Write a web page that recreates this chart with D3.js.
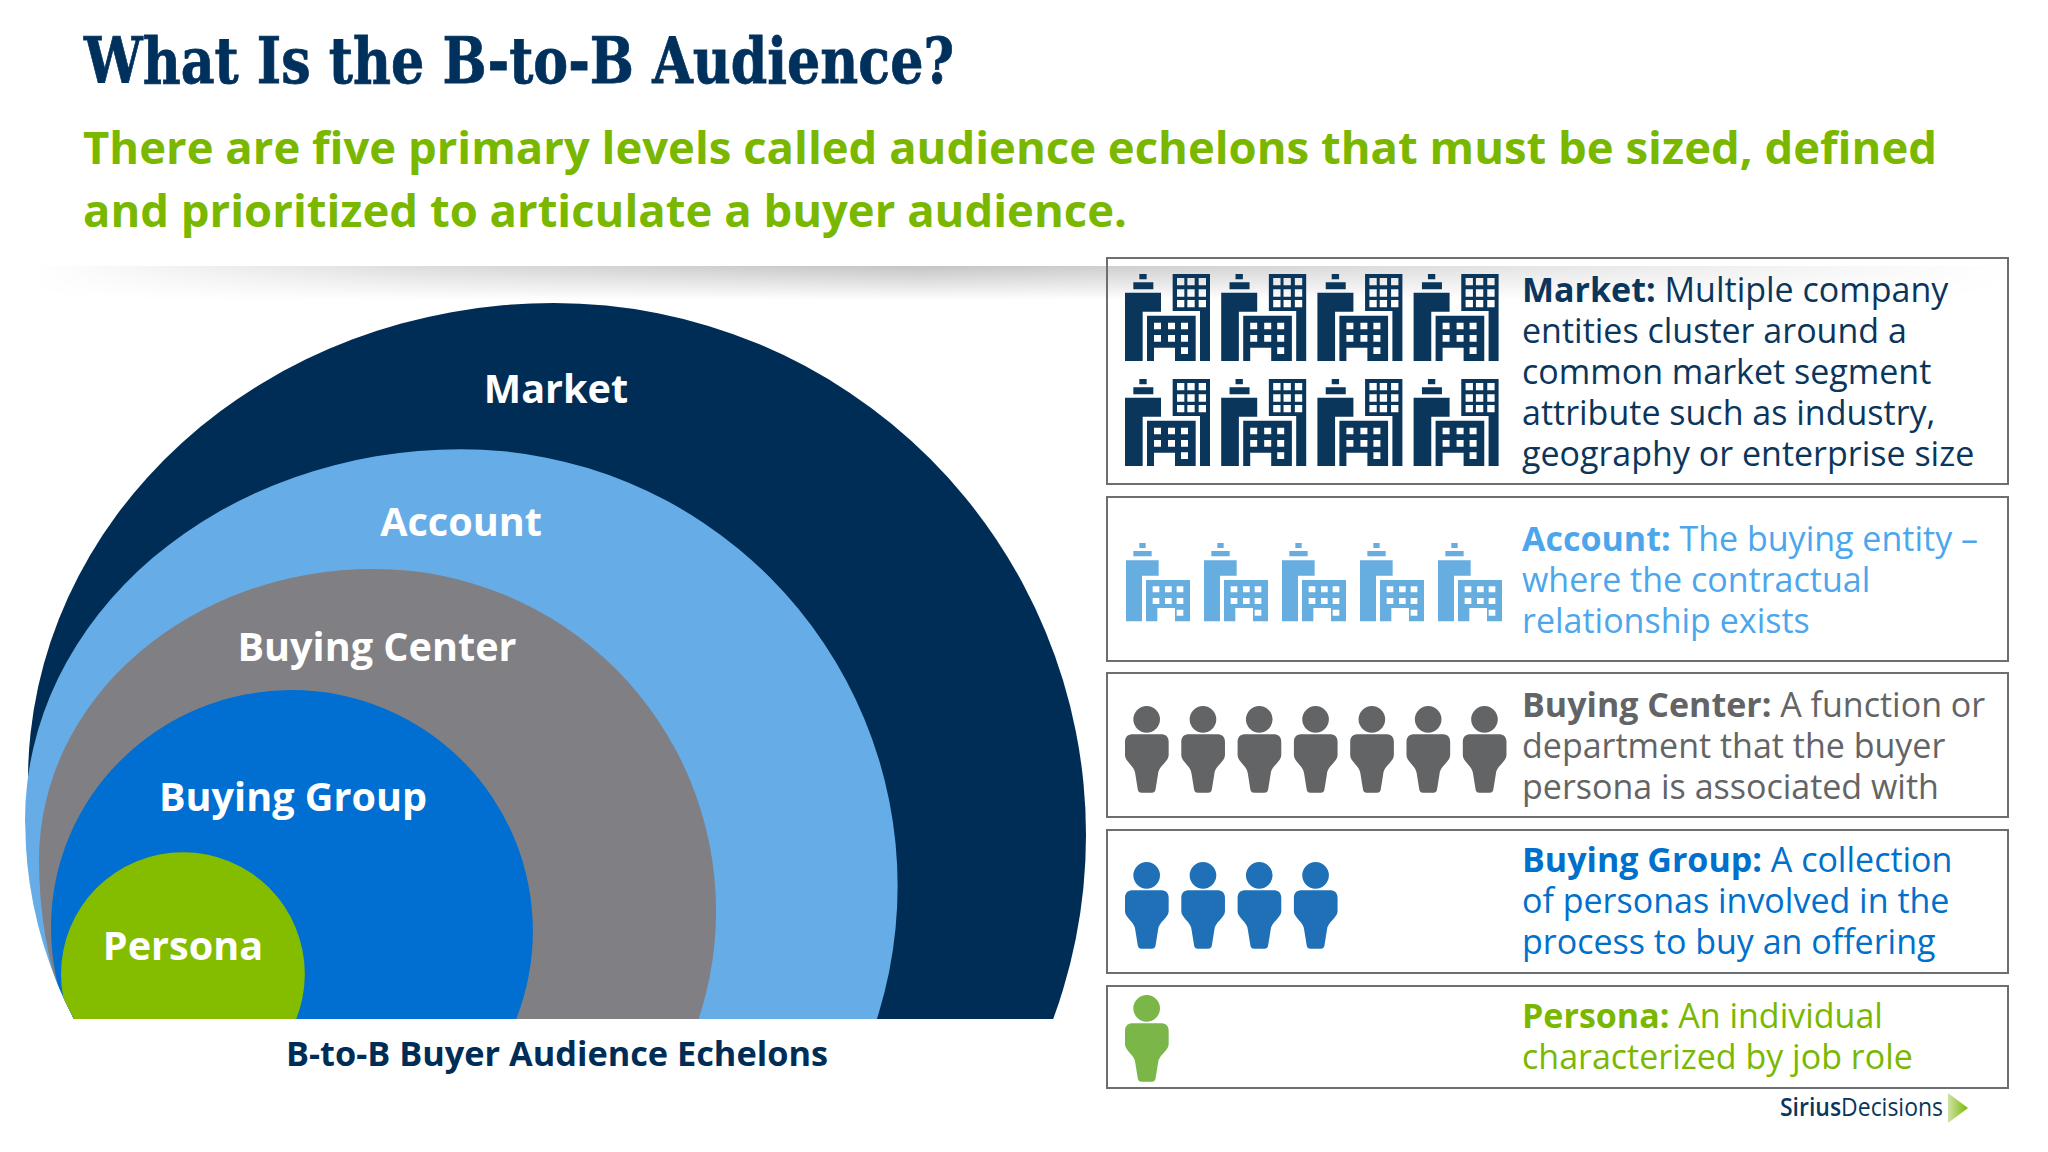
<!DOCTYPE html>
<html>
<head>
<meta charset="utf-8">
<script src="https://cdn.jsdelivr.net/npm/d3@7"></script>
<style>
    html, body { margin: 0; padding: 0; background: #fff; }
    svg { display: block; }
    text { font-family: "Open Sans", sans-serif; }
</style>
</head>
<body>
<div id="chart"></div>
<script>
const titleText = 'What Is the B-to-B Audience?';
const subtitleLines = [
    'There are five primary levels called audience echelons that must be sized, defined',
    'and prioritized to articulate a buyer audience.'
];
const captionText = 'B-to-B Buyer Audience Echelons';

// the five echelons, outermost first
const levels = ['Market', 'Account', 'Buying Center', 'Buying Group', 'Persona'];
// relative size of each echelon, outer one = 100
const levelSizes = [100, 82.1, 64.3, 45.3, 22.9];
const iconCounts = [8, 5, 7, 4, 1];
const definitions = [
    ['Multiple company', 'entities cluster around a', 'common market segment', 'attribute such as industry,', 'geography or enterprise size'],
    ['The buying entity \u2013', 'where the contractual', 'relationship exists'],
    ['A function or', 'department that the buyer', 'persona is associated with'],
    ['A collection', 'of personas involved in the', 'process to buy an offering'],
    ['An individual', 'characterized by job role']
];

const width = 2048;
const height = 1152;
const bubbleColors = ['#002d56', '#66ade8', '#807f83', '#006fd1', '#84bd00'];
const textColors = ['#0b365c', '#4da6ec', '#636466', '#0070cc', '#7ab800'];
const iconColors = ['#0b365c', '#66ade0', '#636466', '#2070b8', '#7ab648'];

const svg = d3.select('#chart')
    .append('svg')
    .attr('width', width)
    .attr('height', height);

const defs = svg.append('defs');

// Header
svg.append('text')
    .attr('x', 84).attr('y', 83)
    .attr('textLength', 870).attr('lengthAdjust', 'spacingAndGlyphs')
    .style('font-family', '"DejaVu Serif", serif')
    .style('font-weight', 700)
    .style('font-size', '63px')
    .style('fill', '#00305c')
    .style('stroke', '#00305c')
    .style('stroke-width', 0.8)
    .text(titleText);

svg.selectAll('.subtitle')
    .data(subtitleLines)
    .enter()
    .append('text')
    .attr('class', 'subtitle')
    .attr('x', 83)
    .attr('y', (_, i) => 164 + i * 63)
    .style('font-weight', 700)
    .style('font-size', '45.45px')
    .style('fill', '#7ab800')
    .text((d) => d);

// Soft shadow under the header
const shadeV = defs.append('linearGradient').attr('id', 'shadeV').attr('x1', 0).attr('x2', 0).attr('y1', 0).attr('y2', 1);
shadeV.append('stop').attr('offset', 0).attr('stop-color', '#c4c4c4');
shadeV.append('stop').attr('offset', 1).attr('stop-color', '#ffffff');
const shadeH = defs.append('linearGradient').attr('id', 'shadeH');
[[0, 0], [0.2, 0.6], [0.45, 1], [0.7, 0.55], [1, 0]].forEach(([o, a]) => {
    shadeH.append('stop').attr('offset', o).attr('stop-color', '#fff').attr('stop-opacity', a);
});
defs.append('mask').attr('id', 'shadeMask').attr('maskUnits', 'userSpaceOnUse')
    .attr('x', 30).attr('y', 266).attr('width', 1980).attr('height', 34)
    .append('rect')
    .attr('x', 30).attr('y', 266).attr('width', 1980).attr('height', 34)
    .style('fill', 'url(#shadeH)');
svg.append('rect')
    .attr('x', 30).attr('y', 266).attr('width', 1980).attr('height', 34)
    .attr('mask', 'url(#shadeMask)')
    .style('fill', 'url(#shadeV)');

// Nested echelons. The left side of each one is squashed a bit, so the outline
// is a circle on the right and a flatter ellipse on the upper left
const sizeScale = d3.scaleLinear().domain([0, 100]).range([0, 532]);
const bubbleLayout = [
    { cx: 554, cy: 835, leftRx: 526, leftRy: 477, leftCy: 780, labelX: 556, labelY: 389 },
    { cx: 461, cy: 886, leftRx: 436, leftRy: 371, leftCy: 820, labelX: 461, labelY: 522 },
    { cx: 374, cy: 911, leftRx: 335, leftRy: 291, leftCy: 860, labelX: 377, labelY: 647 },
    { cx: 292, cy: 931, leftRx: 241, leftRy: 237, leftCy: 927, labelX: 293, labelY: 797 },
    { cx: 183, cy: 974, leftRx: 122, leftRy: 122, leftCy: 974, labelX: 183, labelY: 946 }
];

function bubblePath(size, b) {
    const r = sizeScale(size);
    const top = b.cy - r;
    const bottom = b.cy + r;
    const left = b.cx - b.leftRx;
    return `M${b.cx},${top}`
        + `A${b.leftRx},${b.leftRy} 0 0 0 ${left},${b.leftCy}`
        + `A${b.leftRx},${bottom - b.leftCy} 0 0 0 ${b.cx},${bottom}`
        + `A${r},${r} 0 0 0 ${b.cx},${top}Z`;
}

// flat bottom, and the lower left edge pulled in
const floorClip = defs.append('clipPath').attr('id', 'floorClip');
floorClip.append('rect').attr('x', 0).attr('y', 0).attr('width', 1100).attr('height', 1019);
const edgeClip = defs.append('clipPath').attr('id', 'edgeClip');
edgeClip.append('circle').attr('cx', 455).attr('cy', 820).attr('r', 430);
edgeClip.append('rect').attr('x', 455).attr('y', 0).attr('width', 700).attr('height', 1100);
edgeClip.append('rect').attr('x', 0).attr('y', 0).attr('width', 1100).attr('height', 820);

const bubbles = svg.append('g')
    .attr('clip-path', 'url(#floorClip)')
    .append('g')
    .attr('clip-path', 'url(#edgeClip)');

bubbles.selectAll('path')
    .data(levels)
    .enter()
    .append('path')
    .attr('d', (_, i) => bubblePath(levelSizes[i], bubbleLayout[i]))
    .style('fill', (_, i) => bubbleColors[i]);

svg.selectAll('.bubble-label')
    .data(levels)
    .enter()
    .append('text')
    .attr('class', 'bubble-label')
    .attr('x', (_, i) => bubbleLayout[i].labelX)
    .attr('y', (_, i) => bubbleLayout[i].labelY + 14)
    .attr('text-anchor', 'middle')
    .style('font-weight', 700)
    .style('font-size', '39.6px')
    .style('fill', '#fff')
    .text((d) => d);

svg.append('text')
    .attr('x', 557).attr('y', 1066)
    .attr('text-anchor', 'middle')
    .style('font-weight', 700)
    .style('font-size', '34.3px')
    .style('fill', '#002d56')
    .text(captionText);

// Definition panels
const panelTop = [258, 497, 673, 830, 986];
const panelBottom = [484, 661, 817, 973, 1088];
const firstBaseline = [302, 551, 717, 872, 1028];
const lineStep = 41;

const panels = svg.selectAll('.panel')
    .data(levels)
    .enter()
    .append('g')
    .attr('class', 'panel');

panels.append('rect')
    .attr('x', 1107)
    .attr('y', (_, i) => panelTop[i])
    .attr('width', 901)
    .attr('height', (_, i) => panelBottom[i] - panelTop[i])
    .style('fill', 'none')
    .style('stroke', '#6d6e71')
    .style('stroke-width', 2);

panels.each(function (name, i) {
    const group = d3.select(this);
    definitions[i].forEach((line, j) => {
        const row = group.append('text')
            .attr('x', 1522)
            .attr('y', firstBaseline[i] + j * lineStep)
            .style('font-size', '34px')
            .style('fill', textColors[i]);
        if (j === 0) {
            row.append('tspan').style('font-weight', 700).text(name + ': ');
        }
        row.append('tspan').text(line);
    });
});

// Icons, drawn in their own 3x-sized box and scaled down
const towerWindows = [[13, 12], [44, 12], [78, 12], [13, 46], [44, 46], [78, 46], [13, 78], [44, 78], [78, 78]];
function windowsPath(list, ox, oy, w, h) {
    return list.map(([x, y]) => `M${ox + x},${oy + y}h${w}v${h}h${-w}Z`).join('');
}
const bigBuilding =
    'M43,0h22v16h-22Z M25,25h60v21h-60Z'
    + 'M0,56h108v57h-55v148h-53Z'
    + 'M143,0h112v261h-30v-150h-82Z' + windowsPath(towerWindows, 143, 0, 22, 22)
    + 'M66,125h146v136h-62v-40h-63v40h-21Z'
    + windowsPath([[21, 21], [63, 21], [102, 21], [21, 58], [63, 58], [102, 58], [102, 95]], 66, 125, 21, 20);
const smallBuilding =
    'M40,0h19v15h-19Z M22,24h55v16h-55Z'
    + 'M0,52h98v46h-50v137h-48Z'
    + 'M60,111h132v124h-45v-40h-53v40h-34Z'
    + windowsPath([[20, 19], [57, 19], [92, 19], [20, 54], [57, 54], [92, 54], [92, 89]], 60, 111, 20, 18);
const personBody =
    'M24,85H107C122,85 131,92 131,108V148C131,168 100,180 99,205L92,248C91,256 88,260 80,260H50'
    + 'C42,260 39,256 38,248L31,205C30,180 0,168 0,148V108C0,92 9,85 24,85Z'
    + 'M25,40a40,40 0 1 0 80,0a40,40 0 1 0 -80,0Z';

const iconShape = [bigBuilding, smallBuilding, personBody, personBody, personBody];
const iconLeft = [1125, 1126, 1125, 1125, 1125];
const iconStep = [96.2, 78, 56.3, 56.3, 56.3];
const iconTop = [274, 543, 706, 862, 995];
const iconPerRow = [4, 5, 7, 4, 1];
const rowStep = 105;

levels.forEach((_, i) => {
    const xScale = d3.scaleLinear().domain([0, 1]).range([iconLeft[i], iconLeft[i] + iconStep[i]]);
    svg.append('g')
        .selectAll('path')
        .data(d3.range(iconCounts[i]))
        .enter()
        .append('path')
        .attr('d', iconShape[i])
        .attr('fill-rule', 'evenodd')
        .attr('transform', (n) => {
            const col = n % iconPerRow[i];
            const row = Math.floor(n / iconPerRow[i]);
            return `translate(${xScale(col)},${iconTop[i] + row * rowStep}) scale(${1 / 3})`;
        })
        .style('fill', iconColors[i]);
});

// Logo
const logo = svg.append('text')
    .attr('x', 1780).attr('y', 1116)
    .attr('textLength', 163).attr('lengthAdjust', 'spacingAndGlyphs')
    .style('font-size', '25px')
    .style('fill', '#0b365c');
logo.append('tspan').style('font-weight', 600).text('Sirius');
logo.append('tspan').text('Decisions');

const logoFill = defs.append('linearGradient').attr('id', 'logoFill');
logoFill.append('stop').attr('offset', 0).attr('stop-color', '#cfe3a8');
logoFill.append('stop').attr('offset', 1).attr('stop-color', '#7ab800');
svg.append('path')
    .attr('d', 'M1948,1093L1968,1108L1948,1123Z')
    .style('fill', 'url(#logoFill)');
</script>
</body>
</html>
